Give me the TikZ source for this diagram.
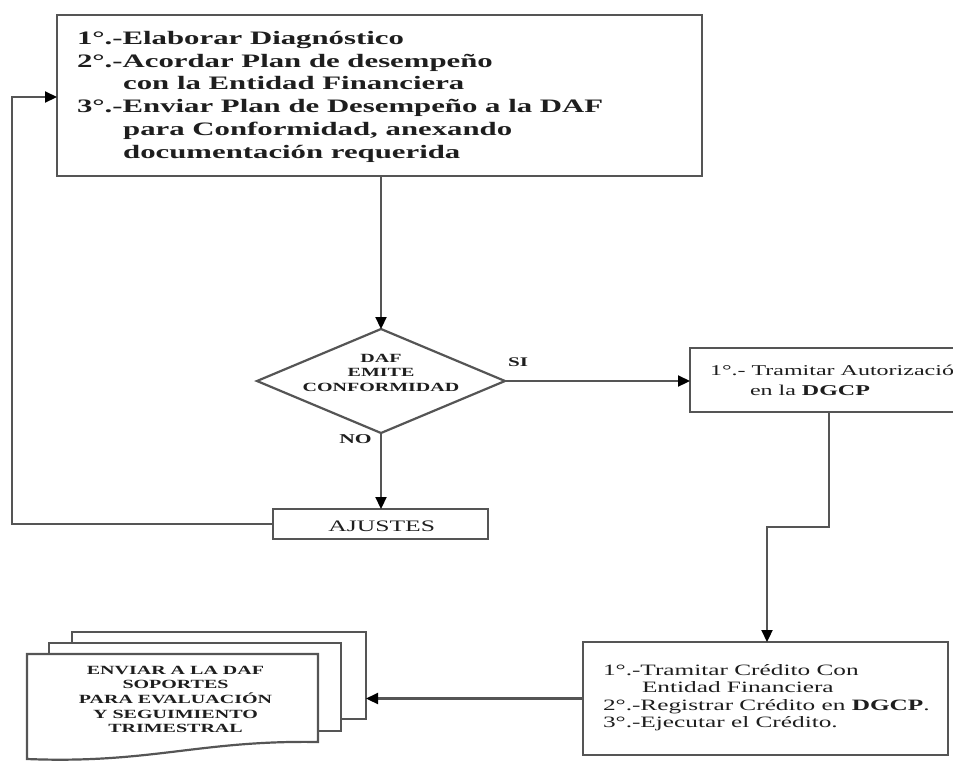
\documentclass[tikz,border=0pt]{standalone}
\usepackage{fontspec}
\setmainfont{Liberation Serif}
\usepackage{graphicx}
\usetikzlibrary{shapes.geometric,arrows.meta}
\definecolor{ln}{HTML}{555555}
\definecolor{tx}{HTML}{1E1E1E}
\newcommand{\sx}[2][1.6]{\scalebox{#1}[1]{#2}}
\begin{document}
\begin{tikzpicture}[x=1pt,y=-1pt,
  box/.style={draw=ln, line width=2.2pt, fill=white, inner sep=0pt, outer sep=0pt},
  conn/.style={draw=ln, line width=2.2pt},
  arr/.style={conn, -{Triangle[length=12pt,width=11pt,color=black,fill=black]}},
  txt/.style={inner sep=0pt, outer sep=0pt, text=tx},
]
\useasboundingbox (0,0) rectangle (953,761);
\clip (0,0) rectangle (953,761);

% top box
\node[box, minimum width=645pt, minimum height=161pt] (top) at (379.5,95.5) {};
\node[txt, anchor=base west] (toptext) at (77,44.5) {\sx[1.62]{\fontsize{19}{22.7}\selectfont\bfseries
 \begin{tabular}[t]{@{}l@{}}
 1°.-Elaborar Diagnóstico\\
 2°.-Acordar Plan de desempeño\\
 \hspace*{28.5pt}con la Entidad Financiera\\
 3°.-Enviar Plan de Desempeño a la DAF\\
 \hspace*{28.5pt}para Conformidad, anexando\\
 \hspace*{28.5pt}documentación requerida
 \end{tabular}}};

% decision
\node[draw=ln, line width=2.2pt, diamond, fill=white, minimum width=248pt, minimum height=104pt, inner sep=0pt, outer sep=0pt] (dia) at (381,381) {};
\node[txt, anchor=base] (diatext) at (381,362) {\sx{\fontsize{12.5}{14.5}\selectfont\bfseries
 \begin{tabular}[t]{@{}c@{}}DAF\\EMITE\\CONFORMIDAD\end{tabular}}};
\node[txt, anchor=base] (si) at (518,366) {\sx{\fontsize{13.2}{15}\selectfont\bfseries SI}};
\node[txt, anchor=base] (no) at (355.5,443.8) {\sx{\fontsize{13.5}{15}\selectfont\bfseries NO}};

% ajustes
\node[box, minimum width=215pt, minimum height=30pt] (aj) at (380.5,524) {};
\node[txt, anchor=base] (ajtext) at (381.7,531.6) {\sx{\fontsize{16}{18}\selectfont AJUSTES}};

% box 2
\node[box, minimum width=310pt, minimum height=64pt] (b2) at (845,380) {};
\node[txt, anchor=base west] (b2text) at (710,375.5) {\sx{\fontsize{15}{20}\selectfont
 \begin{tabular}[t]{@{}l@{}}
 1°.- Tramitar Autorización\\
 \hspace*{25pt}en la \textbf{DGCP}
 \end{tabular}}};

% box 3
\node[box, minimum width=365pt, minimum height=113pt] (b3) at (765.5,698.5) {};
\node[txt, anchor=base west] (b3text) at (603,675.3) {\sx{\fontsize{15.8}{17.5}\selectfont
 \begin{tabular}[t]{@{}l@{}}
 1°.-Tramitar Crédito Con\\
 \hspace*{24.4pt}Entidad Financiera\\
 2°.-Registrar Crédito en \textbf{DGCP}.\\
 3°.-Ejecutar el Crédito.
 \end{tabular}}};

% documents
\node[box, minimum width=294pt, minimum height=87pt] (back) at (219,675.5) {};
\node[box, minimum width=292pt, minimum height=88pt] (mid) at (195,687) {};
\draw[conn, fill=white] (27,654) -- (318,654) -- (318,742)
  .. controls (200,740) and (150,764) .. (27,759) -- cycle;
\node[txt, anchor=base] (doctext) at (175.5,674) {\sx{\fontsize{12.5}{14.6}\selectfont\bfseries
 \begin{tabular}[t]{@{}c@{}}ENVIAR A LA DAF\\SOPORTES\\PARA EVALUACIÓN\\Y SEGUIMIENTO\\TRIMESTRAL\end{tabular}}};

% connectors
\coordinate (l2) at (12,97);
\coordinate (k1) at (829,527);
\coordinate (k2) at (767,527);
\draw[arr] (top.south -| dia.north) -- (dia.north);
\draw[arr] (dia.south) -- (aj.north -| dia.south);
\draw[arr] (aj.west) -| (l2) -- (l2 -| top.west);
\draw[arr] (dia.east) -- (dia.east -| b2.west);
\draw[arr] (b2.south -| k1) -- (k1) -- (k2) -- (k2 |- b3.north);
\draw[arr] (b3.west) -- (b3.west -| back.east);
\end{tikzpicture}
\end{document}
